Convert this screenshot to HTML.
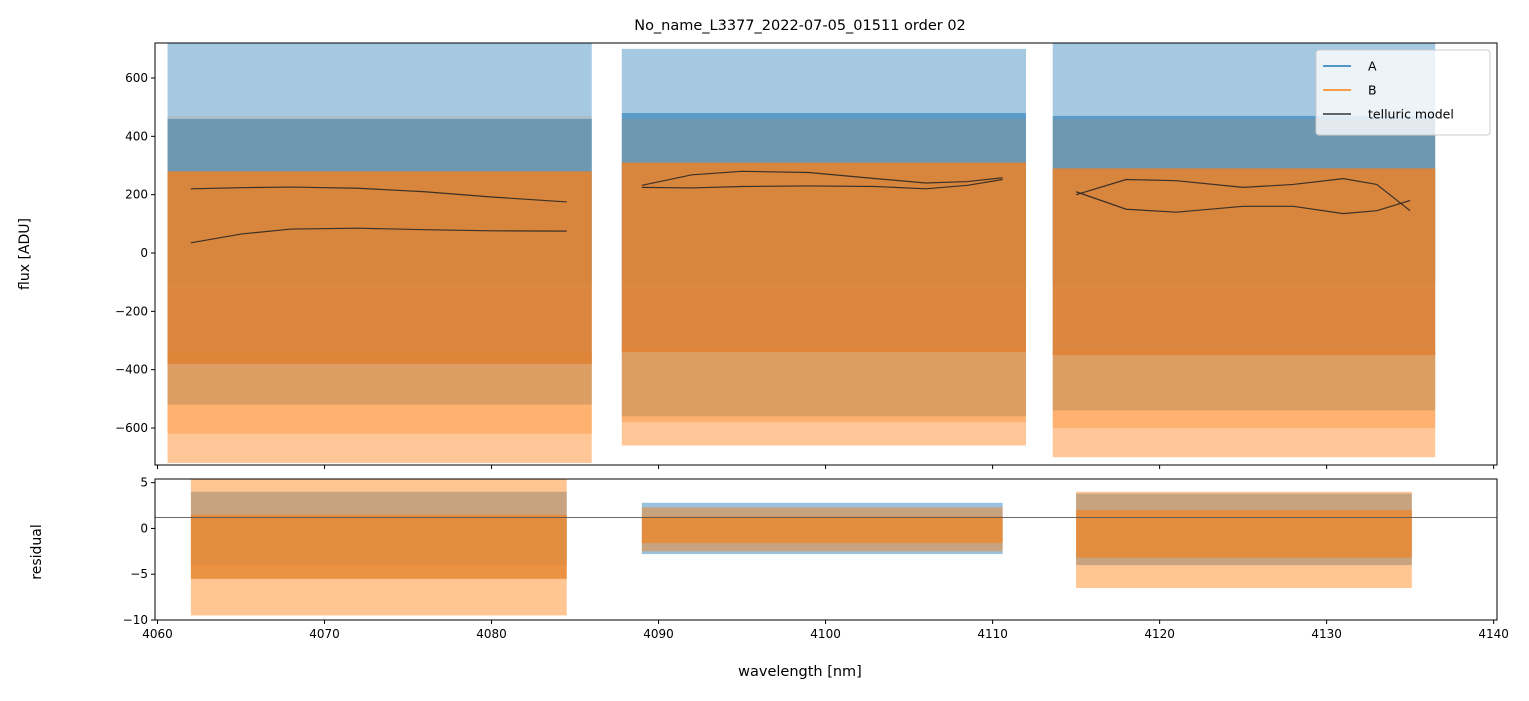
<!DOCTYPE html>
<html><head><meta charset="utf-8"><style>
body{margin:0;background:#fff;font-family:"Liberation Sans","DejaVu Sans",sans-serif}
svg text{font-family:"DejaVu Sans","Liberation Sans",sans-serif;fill:#000}
</style></head><body>
<svg id="c" width="1529" height="696" xmlns="http://www.w3.org/2000/svg"></svg>
<script>
// data
const segStarts=[4060.6,4087.8,4113.6];
const segEnds=[4086.0,4112.0,4136.5];
const resStarts=[4062.0,4089.0,4115.0];
const resEnds=[4084.5,4110.6,4135.1];
// flux envelopes per segment [top, bottom]
const blueOuter=[[720,-520],[700,-560],[720,-540]];
const blueMid=[[460,-100],[480,-100],[470,-100]];
const orangeOuter=[[470,-720],[460,-660],[460,-700]];
const orangeLow=[[-340,-620],[-320,-580],[-330,-600]];
const orangeCore=[[280,-380],[310,-340],[290,-350]];
// residual envelopes
const resBlue=[[4,-4],[2.8,-2.8],[3.8,-4]];
const resOrangeOuter=[[5.4,-9.5],[2.3,-2.5],[4,-6.5]];
const resOrangeCore=[[1.5,-5.5],[1.3,-1.6],[2,-3.2]];
// telluric model lines
const tellX=[[4062,4065,4068,4072,4076,4080,4084.5],[4089,4092,4095,4099,4103,4106,4108.5,4110.6],[4115,4118,4121,4125,4128,4131,4133,4135]];
const tellA=[[220,224,226,222,210,192,175],[232,268,280,276,255,240,245,258],[200,252,248,225,235,255,235,145]];
const tellB=[[35,65,82,85,80,76,75],[225,223,228,230,228,220,232,252],[210,150,140,160,160,135,145,180]];
const xTicks=[4060,4070,4080,4090,4100,4110,4120,4130,4140];
const yTicks=[-600,-400,-200,0,200,400,600];
const rTicks=[-10,-5,0,5];
const resLine=1.2;

const svg=document.getElementById('c');
const NS='http://www.w3.org/2000/svg';
function el(t,a,p){const e=document.createElementNS(NS,t);for(const k in a)e.setAttribute(k,a[k]);(p||svg).appendChild(e);return e;}
const L=155,R=1497,T1=43,B1=465,T2=479,B2=620;
const x=v=>L+(v-4059.85)/(4140.2-4059.85)*(R-L);
const y=v=>253-v*175/600;
const yr=v=>B2-(v+10)/15.4*(B2-T2);
el('defs',{}).innerHTML='<clipPath id="cp1"><rect x="155" y="43" width="1342" height="422"/></clipPath><clipPath id="cp2"><rect x="155" y="479" width="1342" height="141"/></clipPath>';
const g1=el('g',{'clip-path':'url(#cp1)'});

function band(g,x0,x1,lo,hi,yf,col,op,name){const r=el('rect',{x:x(x0),y:yf(hi),width:x(x1)-x(x0),height:yf(lo)-yf(hi),fill:col,'fill-opacity':op},g);
}
for(let i=0;i<3;i++){
 band(g1,segStarts[i],segEnds[i],blueOuter[i][1],blueOuter[i][0],y,'#1f77b4',0.4,'series-a-band');
 band(g1,segStarts[i],segEnds[i],blueMid[i][1],blueMid[i][0],y,'#1f77b4',0.55,'series-a-mid');
 band(g1,segStarts[i],segEnds[i],orangeOuter[i][1],orangeOuter[i][0],y,'#ff7f0e',0.12,'series-b-band');
 band(g1,segStarts[i],segEnds[i],orangeOuter[i][1],orangeLow[i][0],y,'#ff7f0e',0.35,'series-b-band-low');
 band(g1,segStarts[i],segEnds[i],orangeLow[i][1],orangeLow[i][0],y,'#ff8c25',0.35,'series-b-low');
 band(g1,segStarts[i],segEnds[i],orangeCore[i][1],orangeCore[i][0],y,'#dd8438',0.95,'series-b-core');
 [tellA,tellB].forEach(arr=>{const p=el('polyline',{points:tellX[i].map((w,j)=>x(w)+','+y(arr[i][j])).join(' '),fill:'none',stroke:'#222','stroke-width':1.2,'stroke-opacity':0.85,'stroke-linejoin':'round'},g1);
 });
}
const g2=el('g',{'clip-path':'url(#cp2)'});

for(let i=0;i<3;i++){
 band(g2,resStarts[i],resEnds[i],resBlue[i][1],resBlue[i][0],yr,'#1f77b4',0.45,'residual-a-band');
 band(g2,resStarts[i],resEnds[i],resOrangeOuter[i][1],resOrangeOuter[i][0],yr,'#ff7f0e',0.45,'residual-b-band');
 band(g2,resStarts[i],resEnds[i],resOrangeCore[i][1],resOrangeCore[i][0],yr,'#e88a35',0.85,'residual-b-core');
}
const hl=el('line',{x1:L,x2:R,y1:yr(resLine),y2:yr(resLine),stroke:'#555','stroke-width':0.8});

// axes
[[T1,B1],[T2,B2]].forEach(([t,b])=>{const r=el('rect',{x:L,y:t,width:R-L,height:b-t,fill:'none',stroke:'#000','stroke-width':1});
});
xTicks.forEach(v=>{el('line',{x1:x(v),x2:x(v),y1:B1,y2:B1+4,stroke:'#000'});el('line',{x1:x(v),x2:x(v),y1:B2,y2:B2+4,stroke:'#000'});
 const t=el('text',{x:x(v),y:B2+18,'font-size':12,'text-anchor':'middle'});t.textContent=v;
 });
yTicks.forEach(v=>{el('line',{x1:L-4,x2:L,y1:y(v),y2:y(v),stroke:'#000'});
 const t=el('text',{x:L-7,y:y(v)+4,'font-size':12,'text-anchor':'end'});t.textContent=v<0?'\u2212'+(-v):v;
 });
rTicks.forEach(v=>{el('line',{x1:L-4,x2:L,y1:yr(v),y2:yr(v),stroke:'#000'});
 const t=el('text',{x:L-7,y:yr(v)+4,'font-size':12,'text-anchor':'end'});t.textContent=v<0?'\u2212'+(-v):v;
 });
let t=el('text',{x:800,y:30,'font-size':14.5,'text-anchor':'middle'});t.textContent='No_name_L3377_2022-07-05_01511  order 02';

t=el('text',{x:0,y:0,'font-size':14,'text-anchor':'middle',transform:'translate(29,254) rotate(-90)'});t.textContent='flux [ADU]';

t=el('text',{x:0,y:0,'font-size':14,'text-anchor':'middle',transform:'translate(41,552) rotate(-90)'});t.textContent='residual';

t=el('text',{x:800,y:676,'font-size':14.5,'text-anchor':'middle'});t.textContent='wavelength [nm]';

// legend
const lg=el('g',{});
el('rect',{x:1316,y:50,width:174,height:85,rx:3,fill:'#fff','fill-opacity':0.8,stroke:'#ccc'},lg);
[['A','#1f77b4'],['B','#ff7f0e'],['telluric model','#333']].forEach((d,i)=>{
 const yy=66+i*24;
 const ln=el('line',{x1:1323,x2:1351,y1:yy,y2:yy,stroke:d[1],'stroke-width':1.5},lg);
 
 const tx=el('text',{x:1368,y:yy+4.5,'font-size':12.5},lg);tx.textContent=d[0];
 });
</script>
</body></html>
